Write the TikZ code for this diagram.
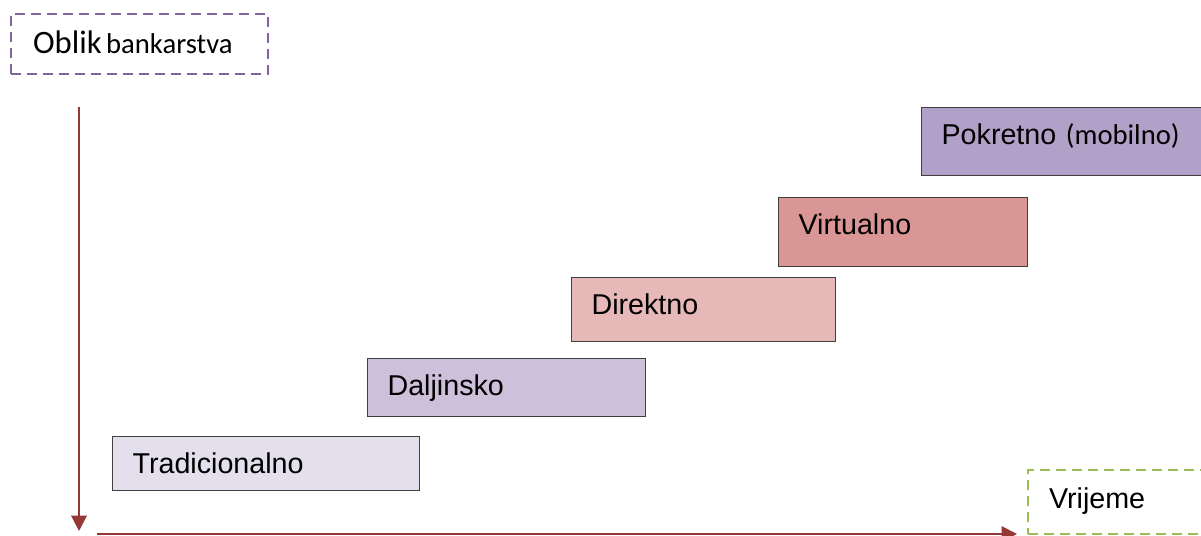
\documentclass[tikz,border=0pt]{standalone}
\usepackage{fontspec}
\setmainfont{Liberation Sans}
\newfontfamily\calibri{Carlito}
\usetikzlibrary{arrows.meta}
\usetikzlibrary{positioning}
\definecolor{tradboja}{HTML}{E4DFEC}
\definecolor{daljboja}{HTML}{CCC0DA}
\definecolor{dirboja}{HTML}{E6B8B7}
\definecolor{virtboja}{HTML}{DA9694}
\definecolor{pokboja}{HTML}{B1A0C7}
\definecolor{ljubicasta}{HTML}{8064A2}
\definecolor{zelena}{HTML}{9BBB59}
\definecolor{crvena}{HTML}{953735}
\tikzset{
    faza/.style={
           rectangle,
           draw=black!75, line width=0.9pt,
           anchor=north west,
           inner xsep=15pt, inner ysep=0pt,
           align=left,
           font=\fontsize{21.5}{26}\selectfont,
           text height=27.75pt,
           },
}
\tikzset{
    oznaka/.style={
           rectangle,
           dash pattern=on 7.5pt off 4.5pt, line width=1.6pt,
           anchor=north west,
           inner ysep=0pt,
           align=left,
           },
}
\tikzset{
    os/.style={
           draw=crvena, line width=1.5pt,
           -{Triangle[length=11.5pt,width=11.5pt]},
           },
}

\begin{document}
\begin{tikzpicture}[x=0.75pt,y=-0.75pt]
\useasboundingbox (0,0) rectangle (1201,535);
\node[oznaka,draw=ljubicasta,inner xsep=16.5pt,text width=159.75pt,text height=29.25pt,text depth=15.75pt] (oblik) at (10,13) {{\calibri\fontsize{24.5}{28}\selectfont Oblik} {\calibri\fontsize{21.5}{24}\selectfont bankarstva}};
\node[oznaka,draw=zelena,inner xsep=15.75pt,text width=120.75pt,text height=28.5pt,text depth=19.5pt,font=\fontsize{21.5}{26}\selectfont] (vrijeme) at (1027,469) {Vrijeme};
\node[faza,fill=tradboja,text width=200.25pt,text depth=12.75pt] (trad) at (112,436) {Tradicionalno};
\node[faza,fill=daljboja,text width=178.5pt,text depth=15.75pt] (dalj) at (367,358) {Daljinsko};
\node[faza,fill=dirboja,text width=168pt,text depth=20.25pt] (dir) at (571,277) {Direktno};
\node[faza,fill=virtboja,text width=156.75pt,text depth=24pt] (virt) at (778,197) {Virtualno};
\node[faza,fill=pokboja,text width=201.75pt,text depth=23.25pt] (pok) at (921,107) {Pokretno {\calibri\fontsize{21.5}{26}\selectfont (mobilno)}};
\coordinate (vgore) at (79,107);
\coordinate (vdolje) at (79,531);
\coordinate (hlijevo) at (97,534);
\coordinate (hdesno) at (1017,534);
\draw[os] (vgore) -- (vdolje);
\draw[os] (hlijevo) -- (hdesno);
\end{tikzpicture}
\end{document}
